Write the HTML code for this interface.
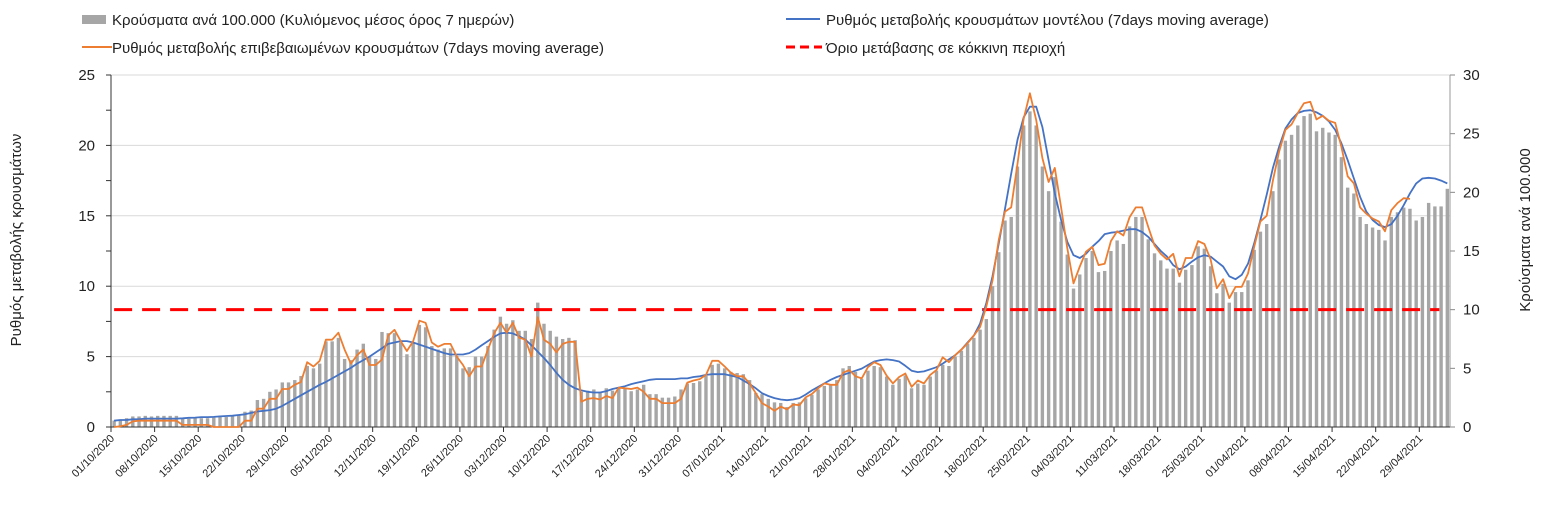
<!DOCTYPE html>
<html><head><meta charset="utf-8">
<style>
html,body{margin:0;padding:0;background:#fff;}
body{width:1544px;height:510px;overflow:hidden;font-family:"Liberation Sans","DejaVu Sans",sans-serif;}
svg text{font-family:"Liberation Sans","DejaVu Sans",sans-serif;fill:#222;}
</style></head>
<body>
<svg id="chart" width="1544" height="510" viewBox="0 0 1544 510" xmlns="http://www.w3.org/2000/svg">
  <g id="grid"></g>
  <g id="bars"></g>
  <g id="axes"></g>
  <g id="lines"></g>
  <g>
    <rect x="82" y="15" width="24" height="9" fill="#a6a6a6"/>
    <text x="112" y="25" font-size="15">Κρούσματα ανά 100.000 (Κυλιόμενος μέσος όρος 7 ημερών)</text>
    <line x1="786" y1="19" x2="820" y2="19" stroke="#4472c4" stroke-width="2"/>
    <text x="826" y="25" font-size="15">Ρυθμός μεταβολής κρουσμάτων μοντέλου (7days moving average)</text>
    <line x1="82" y1="47" x2="112" y2="47" stroke="#ed7d31" stroke-width="2"/>
    <text x="112" y="53" font-size="15">Ρυθμός μεταβολής επιβεβαιωμένων κρουσμάτων (7days moving average)</text>
    <line x1="786" y1="47" x2="822" y2="47" stroke="#ff0000" stroke-width="3" stroke-dasharray="9,5"/>
    <text x="826" y="53" font-size="15">Όριο μετάβασης σε κόκκινη περιοχή</text>
  </g>
  <text transform="translate(21,240) rotate(-90)" text-anchor="middle" font-size="15">Ρυθμός μεταβολής κρουσμάτων</text>
  <text transform="translate(1530,230) rotate(-90)" text-anchor="middle" font-size="15">Κρούσματα ανά 100.000</text>
</svg>
<script>
const startDate = [2020, 10, 1];
const bars = [0.55,0.6,0.75,0.9,0.9,0.95,0.9,0.95,0.95,0.95,
0.95,0.7,0.7,0.75,0.75,0.75,0.8,0.85,0.85,0.95,
1.0,1.3,1.4,2.3,2.4,3.0,3.2,3.8,3.8,4.0,
4.35,5.2,5.0,5.4,7.3,7.3,7.6,5.8,5.7,6.6,
7.1,6.0,5.8,8.1,8.0,8.0,7.2,6.2,7.2,8.7,
8.5,6.9,6.6,6.7,6.7,6.05,5.0,5.1,6.0,6.0,
6.9,8.3,9.4,8.8,9.1,8.2,8.2,7.5,10.6,8.8,
8.2,7.7,7.5,7.6,7.4,3.0,3.1,3.2,3.0,3.3,
3.1,3.4,3.3,3.05,3.2,3.6,2.8,2.8,2.5,2.5,
2.6,3.2,3.7,3.75,3.9,4.35,5.3,5.4,5.0,4.7,
4.6,4.5,4.0,2.9,2.8,2.4,2.1,2.05,1.7,2.05,
2.1,2.45,2.75,3.2,3.5,3.6,4.0,5.0,5.2,4.7,
4.1,4.8,5.2,5.1,4.3,3.6,4.1,4.4,3.3,3.7,
3.6,4.3,4.8,5.3,5.2,6.0,6.5,7.1,7.6,8.3,
9.2,12.0,14.9,17.6,17.9,22.2,25.7,26.9,25.7,22.2,
20.1,21.3,17.5,14.7,11.8,13.0,14.4,15.0,13.2,13.3,
15.0,15.9,15.6,17.1,17.9,17.9,16.0,14.8,14.2,13.5,
13.5,12.3,13.4,13.8,15.4,15.2,13.7,11.4,12.2,10.6,
11.5,11.5,12.5,15.1,16.65,17.3,20.1,22.8,24.4,24.9,
25.7,26.5,26.7,25.2,25.5,25.1,24.9,23.0,20.4,19.9,
17.9,17.3,17.0,16.8,15.9,17.9,18.3,18.7,18.6,17.6,
17.9,19.1,18.8,18.8,20.3];
const confirmedRate = [0,0.05,0.15,0.4,0.45,0.45,0.45,0.45,0.45,0.45,
0.45,0.15,0.15,0.15,0.15,0.15,0,0,0,0,
0,0.45,0.45,1.3,1.3,2.0,2.0,2.7,2.7,3.0,
3.2,4.6,4.3,4.7,6.2,6.2,6.7,5.5,4.5,5.1,
5.5,4.4,4.4,4.8,6.5,6.9,6.1,5.4,6.1,7.55,
7.4,6.0,5.7,5.9,5.9,5.0,4.4,3.6,4.3,4.3,
5.5,6.65,7.4,6.7,7.4,6.35,6.2,5.0,7.8,6.2,
5.9,5.3,5.9,6.05,6.05,1.8,2.0,2.05,1.95,2.2,
2.05,2.8,2.75,2.7,2.8,2.5,2.0,2.0,1.7,1.7,
1.7,2.0,3.15,3.3,3.4,3.7,4.7,4.7,4.3,3.85,
3.6,3.6,3.1,2.4,1.7,1.45,1.15,1.45,1.25,1.6,
1.55,2.1,2.35,2.75,3.1,3.0,3.0,3.85,4.05,3.6,
3.45,4.25,4.6,4.4,3.65,3.1,3.55,3.8,2.85,3.3,
3.1,3.7,4.05,4.95,4.6,5.1,5.5,5.95,6.5,7.1,
8.55,10.4,13.3,15.3,15.6,18.7,21.9,23.7,21.8,19.1,
17.4,18.4,15.6,12.7,10.2,11.4,12.45,12.8,11.5,11.6,
13.2,13.9,13.6,14.9,15.6,15.6,14.2,12.9,12.3,11.9,
12.3,10.7,12.0,12.0,13.2,13.0,11.9,9.85,10.5,9.15,
9.95,9.95,10.9,12.8,14.6,15.0,17.5,19.55,21.1,21.5,
22.3,23.0,23.1,21.85,22.1,21.75,21.6,19.9,17.8,17.3,
15.6,15.15,14.8,14.6,13.9,15.4,15.9,16.25,16.2];
const modelRate = [0.45,0.5,0.5,0.55,0.55,0.6,0.6,0.6,0.6,0.6,
0.6,0.62,0.65,0.67,0.7,0.7,0.72,0.75,0.78,0.8,
0.85,0.9,1.0,1.1,1.15,1.2,1.3,1.5,1.75,2.0,
2.25,2.5,2.75,3.0,3.2,3.45,3.7,3.95,4.2,4.5,
4.75,5.0,5.3,5.6,5.9,6.0,6.1,6.1,6.0,5.85,
5.7,5.55,5.4,5.25,5.15,5.15,5.15,5.25,5.5,5.8,
6.1,6.4,6.65,6.7,6.65,6.45,6.2,5.8,5.35,4.9,
4.4,3.85,3.35,3.0,2.75,2.6,2.5,2.45,2.45,2.55,
2.7,2.8,2.9,3.05,3.15,3.25,3.35,3.4,3.4,3.4,
3.4,3.45,3.45,3.55,3.6,3.7,3.75,3.75,3.75,3.65,
3.55,3.3,3.05,2.75,2.4,2.2,2.05,1.95,1.9,1.95,
2.05,2.3,2.6,2.85,3.1,3.35,3.55,3.7,3.85,4.0,
4.15,4.4,4.65,4.75,4.8,4.75,4.65,4.35,4.0,3.9,
3.95,4.1,4.25,4.5,4.8,5.1,5.5,6.0,6.5,7.35,
8.8,10.7,13.05,15.5,18.0,20.4,22.0,22.75,22.75,21.3,
18.95,16.6,14.7,13.15,12.2,12.0,12.3,12.8,13.2,13.7,
13.8,13.85,13.95,14.05,14.05,13.85,13.5,13.0,12.5,12.1,
11.5,11.2,11.4,11.75,12.05,12.2,12.1,11.75,11.4,10.7,
10.5,10.8,11.6,13.05,14.7,16.5,18.4,19.9,21.2,21.85,
22.3,22.45,22.5,22.35,22.1,21.7,21.1,20.15,18.95,17.65,
16.35,15.3,14.7,14.35,14.2,14.4,15.0,15.75,16.6,17.3,
17.65,17.7,17.65,17.5,17.3];
const threshold = [10];
const leftTicks = [0,5,10,15,20,25];
const rightTicks = [0,5,10,15,20,25,30];

const NS = "http://www.w3.org/2000/svg";
const X0 = 111, DX = 6.23, Y0 = 427, YTOP = 75, XR = 1450;
const yL = v => Y0 - v * (Y0 - YTOP) / 25;
const yR = v => Y0 - v * (Y0 - YTOP) / 30;
const xC = d => X0 + DX * (d + 0.5);
function mk(tag, attrs, parent){const e=document.createElementNS(NS,tag);for(const k in attrs)e.setAttribute(k,attrs[k]);parent.appendChild(e);return e;}

const grid = document.getElementById('grid');
const axes = document.getElementById('axes');
leftTicks.forEach(t=>{
  if(t>0){const g=mk('line',{x1:X0,x2:XR,y1:yL(t),y2:yL(t),stroke:'#d9d9d9','stroke-width':1},grid);
  
  }
  const tx=mk('text',{x:95,y:yL(t)+5,'text-anchor':'end','font-size':15},axes);
  tx.textContent=t;
  
  
});
rightTicks.forEach(t=>{
  const tx=mk('text',{x:1463,y:yR(t)+5,'text-anchor':'start','font-size':15},axes);
  tx.textContent=t;
  
  
  mk('line',{x1:XR,x2:XR+5,y1:yR(t),y2:yR(t),stroke:'#888'},axes);
});
const la=mk('line',{x1:X0,x2:X0,y1:YTOP,y2:Y0,stroke:'#333','stroke-width':1},axes);


for(let v=0;v<=25;v+=2.5){mk('line',{x1:X0-5,x2:X0,y1:yL(v),y2:yL(v),stroke:'#333'},axes);}
const ra=mk('line',{x1:XR,x2:XR,y1:YTOP,y2:Y0,stroke:'#999','stroke-width':1},axes);


const xa=mk('line',{x1:X0,x2:XR,y1:Y0,y2:Y0,stroke:'#333','stroke-width':1},axes);



const barG=document.getElementById('bars');
bars.forEach((v,d)=>{
  const r=mk('rect',{x:xC(d)-1.7,y:yR(v),width:3.4,height:Y0-yR(v),fill:'#a6a6a6'},barG);
  
  
});

const nDays=bars.length;
const sd=new Date(startDate[0],startDate[1]-1,startDate[2]);
for(let d=0;d<=nDays;d+=7){
  const x=X0+DX*d;
  mk('line',{x1:x,x2:x,y1:Y0,y2:Y0+5,stroke:'#333'},axes);
  if(d>=nDays) break;
  const dt=new Date(sd.getTime()+d*86400000+3600000*12);
  const s=String(dt.getDate()).padStart(2,'0')+'/'+String(dt.getMonth()+1).padStart(2,'0')+'/'+dt.getFullYear();
  const tx=mk('text',{x:x+4,y:Y0+12,'text-anchor':'end','font-size':11,transform:`rotate(-45 ${x+4} ${Y0+12})`},axes);
  tx.textContent=s;
  
  
}

const lines=document.getElementById('lines');
const th=mk('line',{x1:xC(0),x2:xC(nDays-1)-8,y1:yR(threshold[0]),y2:yR(threshold[0]),stroke:'#ff0000','stroke-width':3,'stroke-dasharray':'18,10'},lines);


function path(arr,color,name){
  const p=mk('path',{d:arr.map((v,d)=>(d?'L':'M')+xC(d).toFixed(1)+' '+yL(v).toFixed(1)).join(' '),fill:'none',stroke:color,'stroke-width':1.8,'stroke-linejoin':'round'},lines);
  
  
}
path(modelRate,'#4472c4','model-rate-line');
path(confirmedRate,'#ed7d31','confirmed-rate-line');
</script>
</body></html>
